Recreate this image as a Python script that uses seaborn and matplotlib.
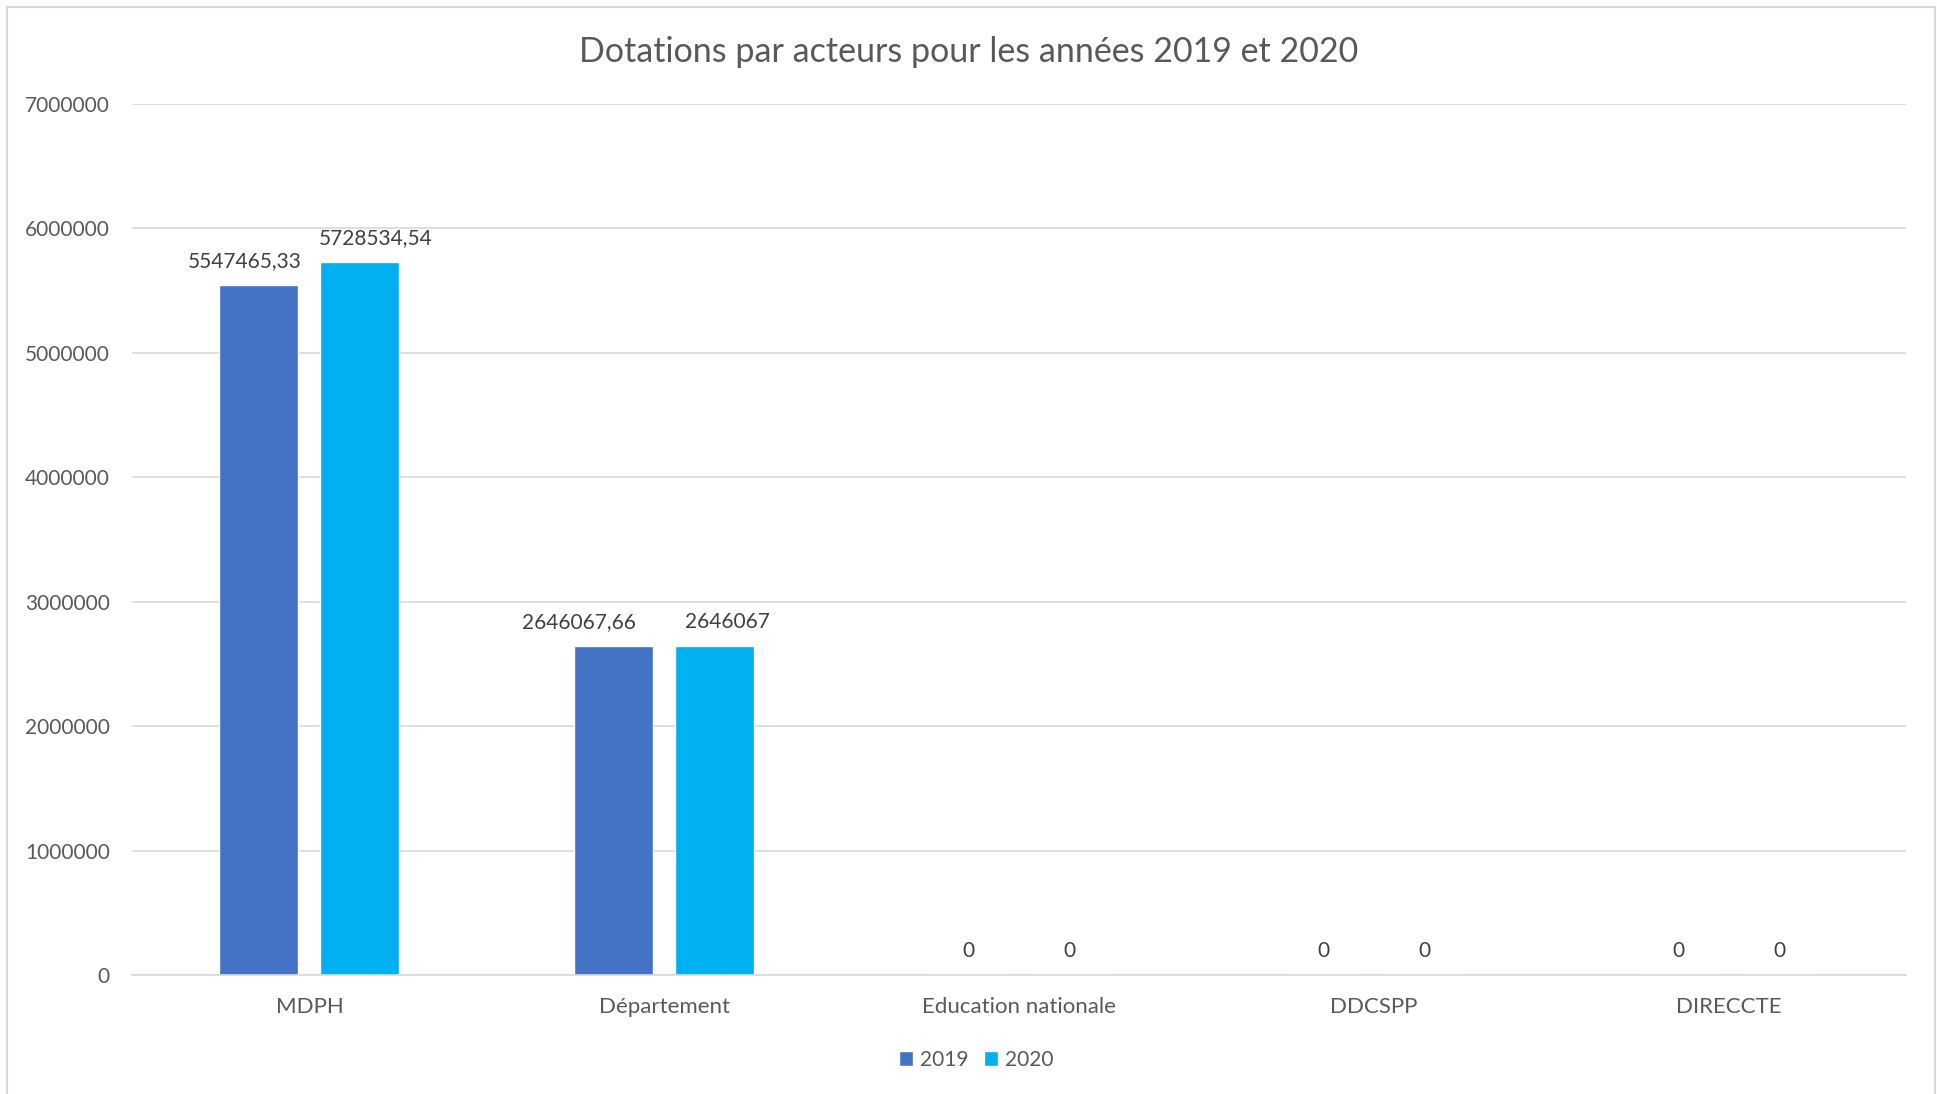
import pandas as pd
import seaborn as sns
import matplotlib.pyplot as plt
from matplotlib.patches import Rectangle

acteurs = ["MDPH", "Département", "Education nationale", "DDCSPP", "DIRECCTE"]
annees = ["2019", "2020"]
dotations_2019 = [5547465.33, 2646067.66, 0, 0, 0]
dotations_2020 = [5728534.54, 2646067, 0, 0, 0]
labels_2019 = ["5547465,33", "2646067,66", "0", "0", "0"]
labels_2020 = ["5728534,54", "2646067", "0", "0", "0"]
yticks = [0, 1000000, 2000000, 3000000, 4000000, 5000000, 6000000, 7000000]

# horizontal nudges (points) of the data labels, like Excel does to avoid overlaps
nudge_2019 = [-10, -25, 0, 0, 0]
nudge_2020 = [11, 9, 0, 0, 0]

df = pd.DataFrame({
    "acteur": acteurs * 2,
    "annee": [annees[0]] * 5 + [annees[1]] * 5,
    "dotation": dotations_2019 + dotations_2020,
})

sns.set_style("white")
plt.rcParams["font.family"] = ["Lato", "DejaVu Sans"]

fig = plt.figure(figsize=(19.37, 10.94), dpi=100)
ax = fig.add_axes([132 / 1937, 1 - 975 / 1094, (1906 - 132) / 1937, (975 - 104) / 1094])

sns.barplot(data=df, x="acteur", y="dotation", hue="annee", order=acteurs,
            palette=["#4472C4", "#00B0F0"], width=0.57, gap=0.218,
            saturation=1, errorbar=None, ax=ax)

for cont, labs, nud in zip(ax.containers, [labels_2019, labels_2020], [nudge_2019, nudge_2020]):
    for bar, lab, dx in zip(cont, labs, nud):
        ax.annotate(lab, xy=(bar.get_x() + bar.get_width() / 2, bar.get_height()),
                    xytext=(dx, 10), textcoords="offset points",
                    ha="center", va="bottom", fontsize=15, color="#404040")

ax.set_ylim(0, 7000000)
ax.set_xlim(-0.5, 4.5)
ax.set_yticks(yticks)
ax.set_yticklabels([str(v) for v in yticks])
ax.yaxis.grid(True, color="#D9D9D9", linewidth=1.2)
ax.set_axisbelow(True)
for s in ["left", "right", "top"]:
    ax.spines[s].set_visible(False)
ax.spines["bottom"].set_color("#D9D9D9")
ax.spines["bottom"].set_linewidth(1.2)
ax.tick_params(axis="both", length=0, labelsize=15, labelcolor="#595959")
ax.tick_params(axis="x", labelsize=16, pad=16)
ax.tick_params(axis="y", pad=16)
ax.set_xlabel("")
ax.set_ylabel("")

fig.text(0.5, 1 - 52 / 1094, "Dotations par acteurs pour les années 2019 et 2020",
         ha="center", va="center", fontsize=24.5, color="#595959")

ax.legend(loc="center", bbox_to_anchor=(976 / 1937, 1 - 1060 / 1094),
          bbox_transform=fig.transFigure, ncol=2, frameon=False, fontsize=15,
          handlelength=0.7, handleheight=0.7, handletextpad=0.3, columnspacing=0.75,
          labelcolor="#595959")

fig.patches.append(Rectangle((7 / 1937, -0.05), (1935 - 7) / 1937, 1.05 - 7 / 1094,
                             transform=fig.transFigure, fill=False,
                             edgecolor="#D9D9D9", linewidth=1.5))

fig.savefig("out.png", dpi=100)
